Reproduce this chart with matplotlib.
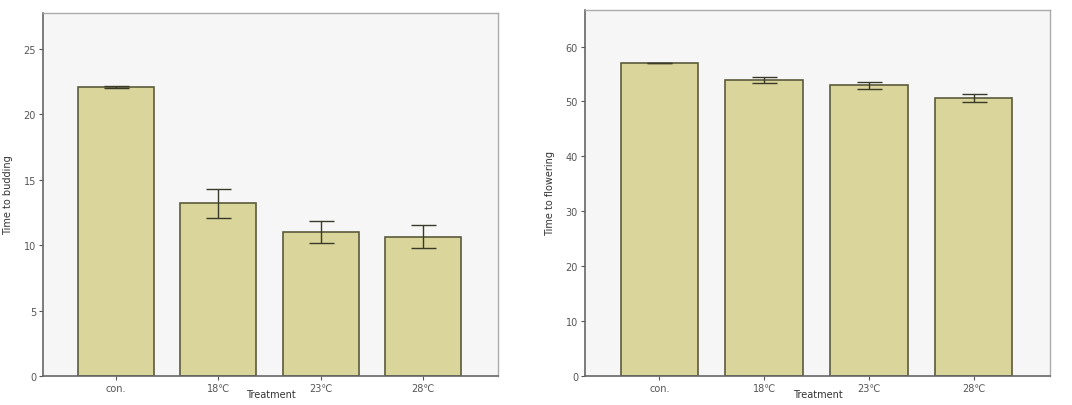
import numpy as np
import matplotlib.pyplot as plt

# Данные (средние и ошибки)
treatments = ['con.', '18℃', '23℃', '28℃']
budding_mean = [22.1, 13.2, 11.0, 10.65]
budding_err = [0.06, 1.13, 0.82, 0.9]
flowering_mean = [57.0, 53.95, 52.95, 50.6]
flowering_err = [0.05, 0.5, 0.6, 0.75]

bar_color = '#d9d59b'
edge_color = '#5c5b3c'
bg_color = '#f6f6f6'


def draw_panel(ax, means, errs, ylabel, ylim, yticks):
    x = np.arange(len(treatments))
    ax.set_facecolor(bg_color)
    ax.bar(x, means, width=0.74, color=bar_color, edgecolor=edge_color, linewidth=1.2, zorder=2)
    ax.errorbar(x, means, yerr=errs, fmt='none', ecolor='#3a3a2a', elinewidth=1.0,
                capsize=9, capthick=1.0, zorder=3)
    ax.set_xlim(-0.71, 3.73)
    ax.set_ylim(*ylim)
    ax.set_yticks(yticks)
    ax.set_xticks(x)
    ax.set_xticklabels(treatments)
    ax.tick_params(axis='both', labelsize=7, colors='#555555', length=3, width=0.8, pad=2)
    ax.set_ylabel(ylabel, fontsize=7, color='#333333', labelpad=8)
    ax.set_xlabel('Treatment', fontsize=7, color='#333333', labelpad=-3)
    for side in ['left', 'bottom']:
        ax.spines[side].set_color('#666666')
        ax.spines[side].set_linewidth(1.2)
    for side in ['top', 'right']:
        ax.spines[side].set_color('#aaaaaa')
        ax.spines[side].set_linewidth(1.0)


fig = plt.figure(figsize=(10.72, 4.06), dpi=100)
ax1 = fig.add_axes([0.0401, 0.0714, 0.4245, 0.894])
ax2 = fig.add_axes([0.5457, 0.0714, 0.4338, 0.902])

draw_panel(ax1, budding_mean, budding_err, 'Time to budding', (0, 27.75), [0, 5, 10, 15, 20, 25])
draw_panel(ax2, flowering_mean, flowering_err, 'Time to flowering', (0, 66.7), [0, 10, 20, 30, 40, 50, 60])
ax1.yaxis.set_label_coords(-0.065, 0.5)
ax2.yaxis.set_label_coords(-0.065, 0.5)

fig.savefig('out.png', dpi=100)
